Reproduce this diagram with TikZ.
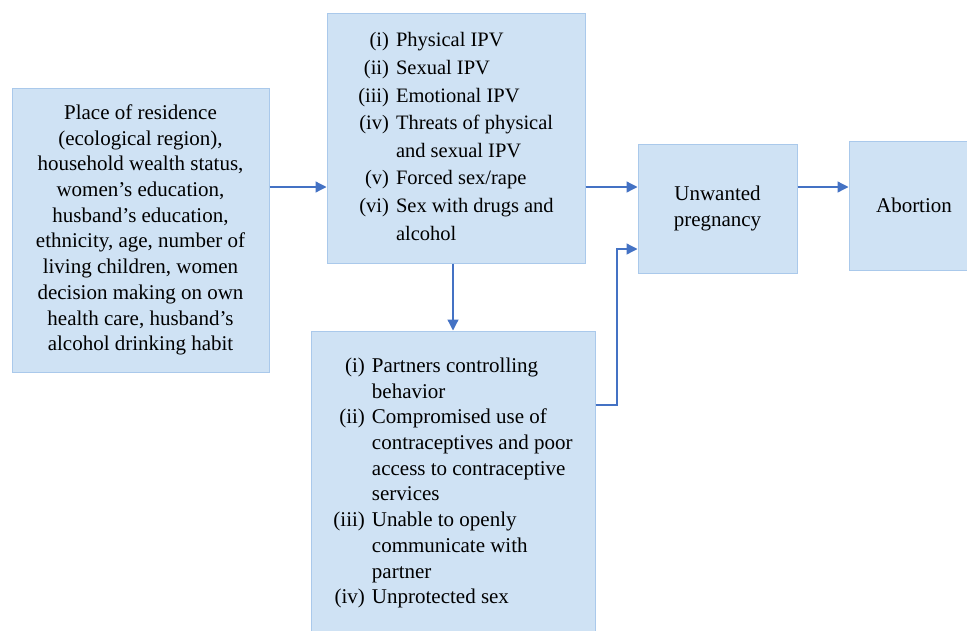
\documentclass[tikz,border=0pt]{standalone}
\usepackage{fontspec}
\setmainfont{Liberation Serif}
\usepackage{tikz}
\usetikzlibrary{arrows.meta}
\definecolor{boxfill}{RGB}{207,226,244}
\definecolor{boxline}{RGB}{170,201,235}
\definecolor{arrblue}{RGB}{68,114,196}
\tikzset{
  box/.style={draw=boxline, line width=1pt, fill=boxfill, inner sep=0pt,
    align=center, font=\fontsize{21}{25.7}\selectfont},
  arr/.style={draw=arrblue, line width=1.3pt,
    -{Triangle[length=11pt,width=11pt]}}
}

\begin{document}
\begin{tikzpicture}[x=1pt,y=-1pt]
      \clip (0,0) rectangle (967,630);
      \node[box, minimum width=257, minimum height=284] (fac) at (140.5,230)
        {Place of residence\\(ecological region),\\household wealth status,\\
         women’s education,\\husband’s education,\\ethnicity, age, number of\\
         living children, women\\decision making on own\\health care, husband’s\\
         alcohol drinking habit};
      \node[box, minimum width=258, minimum height=250] (ipv) at (456,138)
        {\fontsize{20.5}{27.6}\selectfont
         \begin{tabular}{@{}r@{\hspace{7pt}}l@{}}
         (i) & Physical IPV\\
         (ii) & Sexual IPV\\
         (iii) & Emotional IPV\\
         (iv) & Threats of physical\\
              & and sexual IPV\\
         (v) & Forced sex/rape\\
         (vi) & Sex with drugs and\\
              & alcohol
         \end{tabular}};
      \node[box, minimum width=284, minimum height=304] (med) at (453,483)
        {\begin{tabular}{@{}r@{\hspace{7pt}}l@{}}
         (i) & Partners controlling\\
             & behavior\\
         (ii) & Compromised use of\\
              & contraceptives and poor\\
              & access to contraceptive\\
              & services\\
         (iii) & Unable to openly\\
               & communicate with\\
               & partner\\
         (iv) & Unprotected sex
         \end{tabular}};
      \node[box, minimum width=159, minimum height=129] (unw) at (717.5,208.5)
        {Unwanted\\pregnancy};
      \node[box, minimum width=130, minimum height=129] (abo) at (914,205.5)
        {Abortion};
      \coordinate (row) at (0,187);
      \coordinate (turn) at (617,0);
      \foreach \i/\j in {fac/ipv, ipv/unw, unw/abo} {
	\draw[arr] (\i.east |- row) -- (\j.west |- row);
      };
      \draw[arr] (ipv.south -| 453,0) -- (med.north -| 453,0);
      \draw[arr] (med.east |- 0,405) -| (turn |- 0,249) -- (unw.west |- 0,249);
\end{tikzpicture}
\end{document}
